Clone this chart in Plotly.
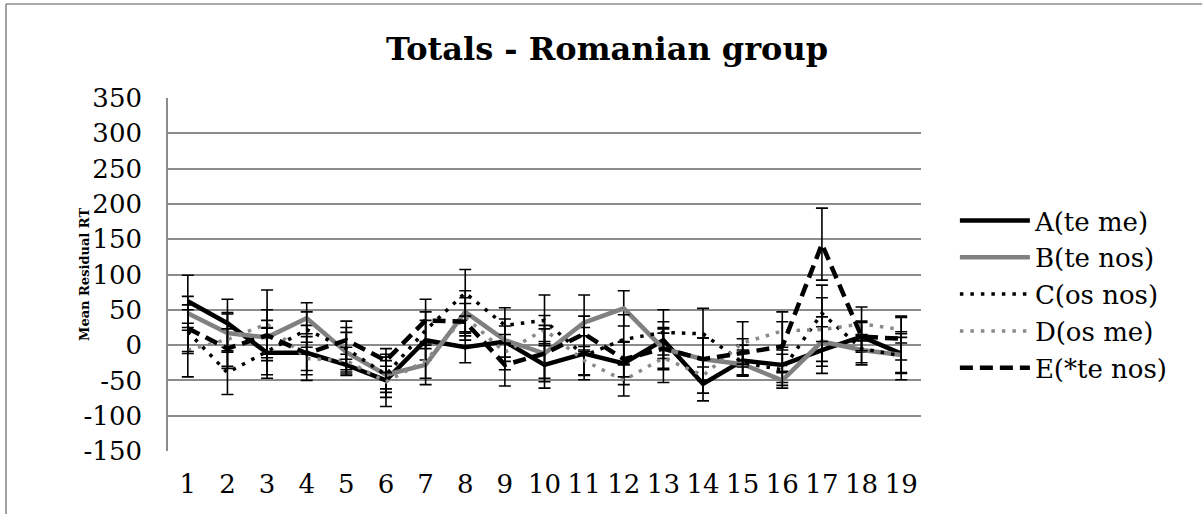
import plotly.graph_objects as go

# Item positions 1..19
items = list(range(1, 20))

# Mean residual RT per condition
a_te_me = [62, 31, -11, -11, -28, -50, 7, -3, 5, -28, -12, -26, 7, -55, -22, -28, -7, 12, -12]
b_te_nos = [45, 17, 11, 38, -10, -42, -28, 47, 7, -12, 32, 52, -5, -20, -27, -50, 5, -7, -14]
c_os_nos = [19, -39, -9, 22, -5, -42, 21, 74, 28, 35, -15, 8, 18, 16, -25, -35, 45, -5, -15]
d_os_me = [-7, 8, 30, -19, -22, -52, -22, 40, -10, 22, -22, -50, -18, -43, 3, 20, 22, 30, 22]
e_te_nos_star = [24, -5, 14, -12, 7, -22, 35, 33, -28, -12, 16, -20, -5, -20, -11, -2, 143, 12, 9]

# Error bar half-lengths
a_err = [37, 34, 36, 39, 15, 37, 28, 22, 22, 33, 37, 30, 26, 24, 22, 25, 33, 22, 28]
b_err = [24, 27, 24, 22, 28, 25, 28, 30, 30, 40, 39, 25, 30, 30, 15, 11, 35, 21, 25]
c_err = [31, 31, 33, 25, 30, 20, 26, 33, 25, 36, 28, 35, 32, 36, 18, 22, 40, 20, 34]
d_err = [38, 38, 48, 23, 19, 22, 25, 27, 25, 20, 20, 22, 35, 25, 30, 27, 45, 24, 19]
e_err = [33, 28, 36, 24, 27, 17, 30, 26, 30, 35, 25, 25, 28, 30, 20, 35, 51, 20, 30]

y_ticks = [-150, -100, -50, 0, 50, 100, 150, 200, 250, 300, 350]

SERIF = "DejaVu Serif"
GRID = "#8c8c8c"

# plot area in pixels: x 168..921, y 98..451
PX_L, PX_W, PX_B, PX_H = 168, 753, 451, 353

series = [
    ("A(te me)", a_te_me, a_err, "#000000", "solid", 4.5),
    ("B(te nos)", b_te_nos, b_err, "#808080", "solid", 4.5),
    ("C(os nos)", c_os_nos, c_err, "#000000", "3.5px,7px", 3.5),
    ("D(os me)", d_os_me, d_err, "#8a8a8a", "3.5px,7px", 3.5),
    ("E(*te nos)", e_te_nos_star, e_err, "#000000", "13px,7px", 4.5),
]

fig = go.Figure()
for i, (name, vals, errs, color, dash, lw) in enumerate(series):
    fig.add_trace(go.Scatter(
        x=items, y=vals, name=name, mode="lines",
        legendgroup=f"g{i}",
        line=dict(color=color, width=lw, dash=dash),
        error_y=dict(type="data", array=errs, visible=True,
                     color="#000000", thickness=1.6, width=6),
    ))

fig.update_layout(
    width=1202, height=514,
    margin=dict(l=PX_L, r=1202 - PX_L - PX_W, t=98, b=514 - PX_B),
    paper_bgcolor="white", plot_bgcolor="white",
    font=dict(family=SERIF, size=26, color="#000000"),
    title=dict(text="<b>Totals - Romanian group</b>", x=0.505, xref="container",
               xanchor="center", y=0.905, yref="container", yanchor="middle",
               font=dict(family=SERIF, size=32, color="#000000")),
    showlegend=True,
    legend=dict(x=1.045, xanchor="left", y=0.443, yanchor="middle",
                font=dict(family=SERIF, size=26), itemwidth=70,
                tracegroupgap=0, traceorder="grouped",
                bgcolor="rgba(0,0,0,0)"),
    xaxis=dict(range=[0.5, 19.5], tickvals=items, ticktext=[str(v) for v in items],
               showgrid=False, zeroline=False, showline=False, ticks="",
               ticklabelstandoff=15, tickfont=dict(family=SERIF, size=26)),
    yaxis=dict(range=[-150, 350], tickvals=y_ticks,
               ticktext=[str(v) for v in y_ticks], showgrid=True,
               gridcolor=GRID, gridwidth=1.6, zeroline=False,
               showline=True, linecolor=GRID, linewidth=1.6, ticks="",
               ticklabelstandoff=19, tickfont=dict(family=SERIF, size=26)),
    annotations=[
        dict(text="<b>Mean Residual RT</b>", textangle=-90,
             xref="paper", yref="paper",
             x=(84 - PX_L) / PX_W, y=(PX_B - 275) / PX_H,
             xanchor="center", yanchor="middle", showarrow=False,
             font=dict(family=SERIF, size=13, color="#000000")),
    ],
    shapes=[
        dict(type="line", xref="paper", yref="paper",
             x0=(6 - PX_L) / PX_W, x1=(1202 - PX_L) / PX_W,
             y0=(PX_B - 4) / PX_H, y1=(PX_B - 4) / PX_H,
             line=dict(color=GRID, width=1.6)),
        dict(type="line", xref="paper", yref="paper",
             x0=(6 - PX_L) / PX_W, x1=(6 - PX_L) / PX_W,
             y0=(PX_B - 4) / PX_H, y1=(PX_B - 516) / PX_H,
             line=dict(color=GRID, width=1.6)),
    ],
)

fig.write_html("out.html")
